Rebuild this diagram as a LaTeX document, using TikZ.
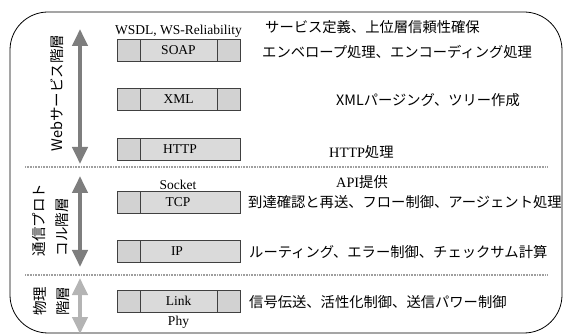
\documentclass[tikz,border=0pt]{standalone}
\usepackage{fontspec}
\setmainfont{Liberation Serif}
\newfontfamily\jpfont{Noto Sans CJK JP}
\usetikzlibrary{arrows.meta,positioning}
\definecolor{cellgray}{HTML}{D2D2D2}
\definecolor{midgray}{HTML}{DADADA}
\definecolor{spandark}{HTML}{7E7E7E}
\definecolor{spanlight}{HTML}{B4B4B4}
\tikzset{
  cell/.style={draw=black!75, fill=cellgray, minimum height=22pt, inner sep=0pt, outer sep=0pt,
    font=\fontsize{13.5}{15}\selectfont},
  side/.style={cell, minimum width=23pt},
  mid/.style={cell, fill=midgray, minimum width=77pt},
  wide/.style={cell, fill=midgray, minimum width=100pt},
  tag/.style={inner sep=1pt, font=\fontsize{13.5}{15}\selectfont},
  desc/.style={anchor=west, inner sep=0pt, font=\jpfont\fontsize{14.3}{16}\selectfont},
  span/.style={{Triangle[width=15pt,length=17pt]}-{Triangle[width=15pt,length=17pt]}, line width=4pt},
  sep/.style={draw=gray!75, line width=1.6pt, dash pattern=on 0.9pt off 0.7pt},
  layername/.style={rotate=90, align=left, font=\jpfont\fontsize{14.5}{23}\selectfont}
}
\begin{document}
\begin{tikzpicture}[x=1pt, y=-1pt]
\useasboundingbox (0,0) rectangle (564,336);
\draw[rounded corners=38pt, line width=0.8pt] (10,12) rectangle (562,333);
\draw[sep] (25,167) -- (548,167);
\draw[sep] (25,275) -- (548,275);

% web service layer
\node[mid] (soap) at (178.5,50.5) {SOAP};
\node[side, left=0pt of soap] (soapl) {};
\node[side, right=0pt of soap] (soapr) {};
\node[tag, above=1pt of soap] (wsdl) {WSDL, WS-Reliability};

\node[mid] (xml) at (178.5,99.5) {XML};
\node[side, left=0pt of xml] (xmll) {};
\node[side, right=0pt of xml] (xmlr) {};

\node[wide] (http) at (190,149.5) {};
\node[side, left=0pt of http] (httpl) {};
\node[tag] at ([xshift=-10pt]http.center) {HTTP};

% protocol layer
\node[wide] (tcp) at (190,202) {};
\node[side, left=0pt of tcp] (tcpl) {};
\node[tag] at ([xshift=-12pt]tcp.center) {TCP};
\node[tag, anchor=south] (socket) at ([xshift=-12pt]tcp.north) {Socket};

\node[wide] (ip) at (190,251.5) {};
\node[side, left=0pt of ip] (ipl) {};
\node[tag] at ([xshift=-13pt]ip.center) {IP};

% physical layer
\node[mid] (link) at (178.5,301) {Link};
\node[side, left=0pt of link] (linkl) {};
\node[side, right=0pt of link] (linkr) {};
\node[tag, below=3pt of link] (phy) {Phy};

% layer spans
\coordinate (webtop) at (80,29);
\coordinate (webbot) at (80,164);
\coordinate (comtop) at (80,176);
\coordinate (combot) at (80,267);
\coordinate (phytop) at (80,278);
\coordinate (phybot) at (80,334);
\draw[span, spandark] (webtop) -- (webbot);
\draw[span, spandark] (comtop) -- (combot);
\draw[span, spanlight] (phytop) -- (phybot);

\node[layername] (webname) at (57,93) {Webサービス階層};
\node[layername] (comname) at (51,220) {通信プロト\\コル階層};
\node[layername] (phyname) at (51,301) {物理\\階層};

% descriptions
\node[desc] (wsdesc) at (265,27) {サービス定義、上位層信頼性確保};
\node[desc] (soapdesc) at (262,52) {エンベロープ処理、エンコーディング処理};
\node[desc] (xmldesc) at (336,100) {XMLパージング、ツリー作成};
\node[desc] (httpdesc) at (329,152) {{\rmfamily HTTP}処理};
\node[desc] (apidesc) at (336,182) {{\rmfamily API}提供};
\node[desc] (tcpdesc) at (248,202) {到達確認と再送、フロー制御、アージェント処理};
\node[desc] (ipdesc) at (249,252) {ルーティング、エラー制御、チェックサム計算};
\node[desc] (phydesc) at (249,302) {信号伝送、活性化制御、送信パワー制御};
\end{tikzpicture}
\end{document}
